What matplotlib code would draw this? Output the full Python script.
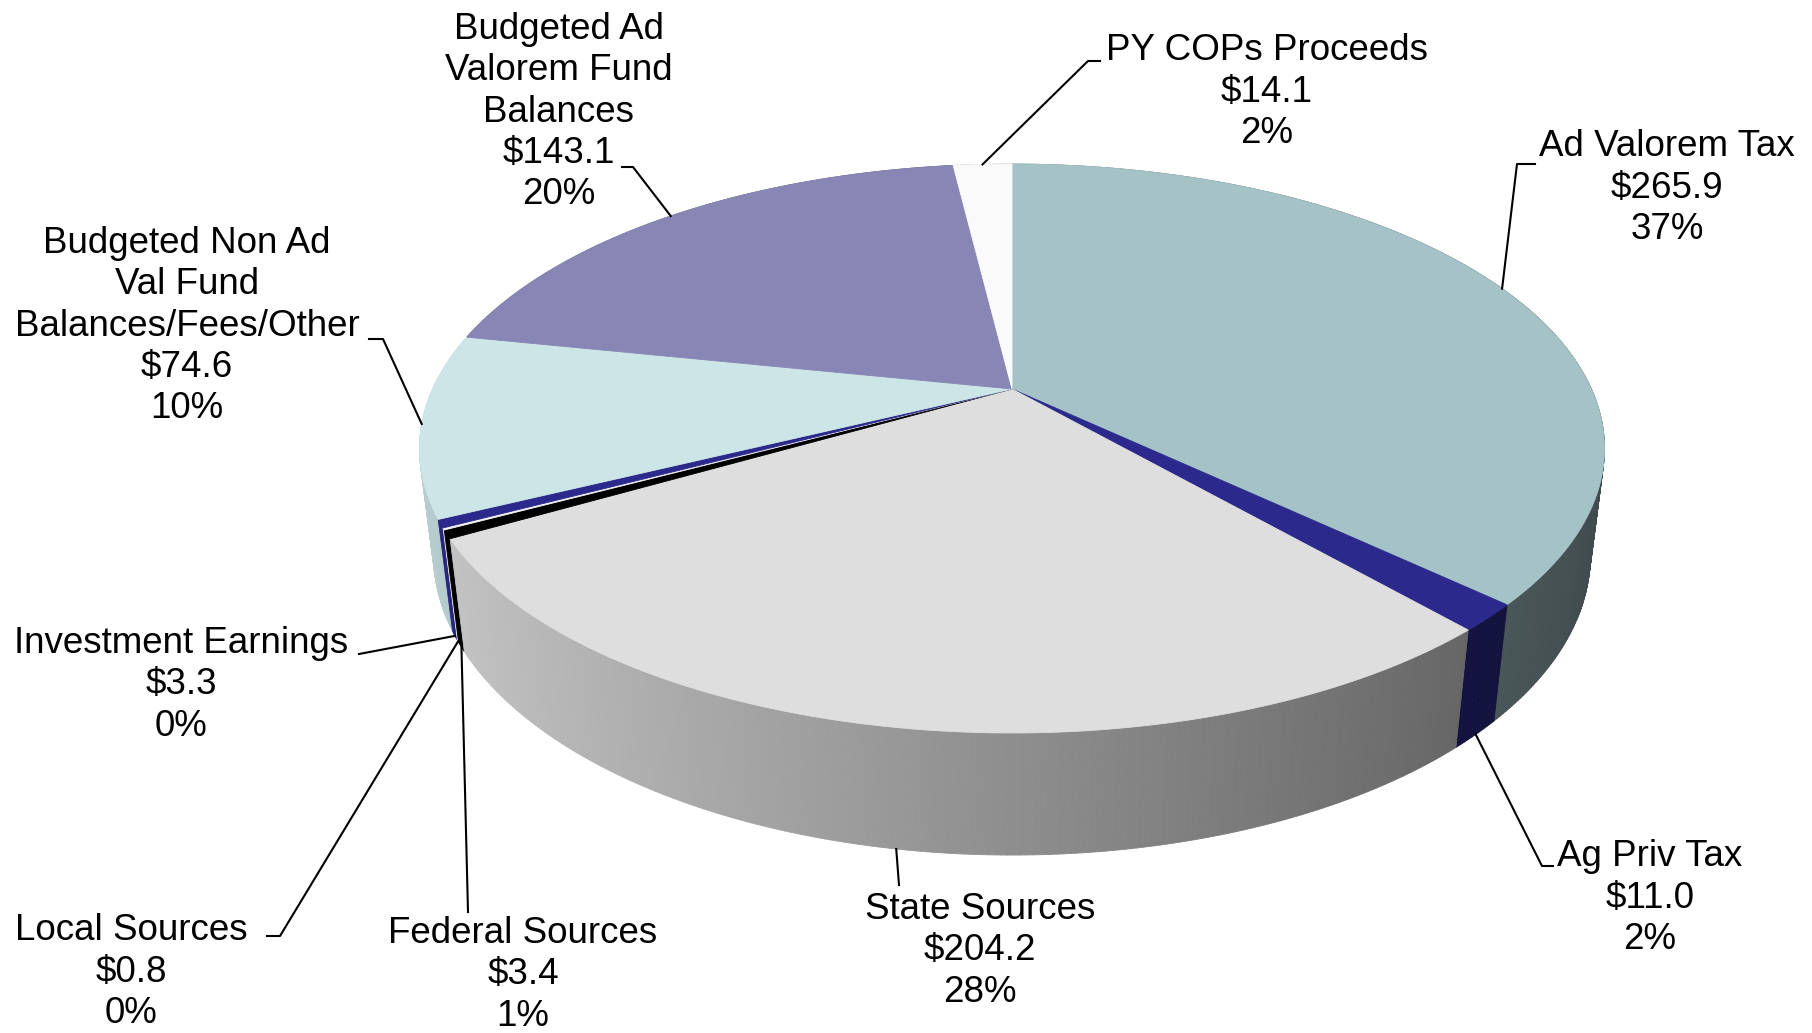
import numpy as np
import matplotlib.pyplot as plt
from matplotlib.collections import PolyCollection
from matplotlib.colors import to_rgb

plt.rcParams['font.family'] = ['Liberation Sans', 'DejaVu Sans']

# revenue sources, clockwise from 12 o'clock
labels = ['Ad Valorem Tax', 'Ag Priv Tax', 'State Sources', 'Federal Sources',
          'Local Sources', 'Investment Earnings',
          'Budgeted Non Ad\nVal Fund\nBalances/Fees/Other',
          'Budgeted Ad\nValorem Fund\nBalances', 'PY COPs Proceeds']
values = [265.9, 11.0, 204.2, 3.4, 0.8, 3.3, 74.6, 143.1, 14.1]
pct_text = ['37%', '2%', '28%', '1%', '0%', '0%', '10%', '20%', '2%']
colors = ['#a5c3c7', '#2b2a8c', '#dedede', '#000000', '#f2f2f2',
          '#2b2a8c', '#cce5e7', '#8886b4', '#fafafa']

# label placement (pixel coords of the 1812x1033 canvas)
label_xy = [(1667, 188), (1650, 898), (980, 951), (523, 975), (131, 972),
            (181, 685), (187, 326), (559, 112), (1267, 92)]
# elbow points of the leader lines, and whether they start on the bottom rim
leader_pts = [[(1517, 164), (1535, 164)],
              [(1542, 866), (1553, 866)],
              [(899, 885)],
              [(468, 912)],
              [(280, 936), (267, 936)],
              [(359, 654)],
              [(383, 339), (369, 339)],
              [(633, 167), (622, 167)],
              [(1088, 61), (1100, 61)]]
on_bottom = [False, True, True, True, True, True, False, False, False]

# simple perspective camera
CX, CY = 1012, 389
F = 2445
D = 4.22
PHI = np.radians(28)
SN, CS = np.sin(PHI), np.cos(PHI)
H = 0.21


def proj(theta, h=0.0):
    u = np.sin(theta)
    v = np.cos(theta)
    yc = v * SN - h * CS
    z = D + v * CS + h * SN
    return CX + F * u / z, CY - F * yc / z, z


def shade(theta):
    return 0.64 + 0.27 * (-np.sin(theta))


fig = plt.figure(figsize=(18.12, 10.33), dpi=100)
ax = fig.add_axes([0, 0, 1, 1])
ax.set_xlim(0, 1812)
ax.set_ylim(1033, 0)
ax.axis('off')

total = sum(values)
bounds = np.concatenate([[0], np.cumsum(values)]) / total * 2 * np.pi

# side walls, painted back to front
quads, qcols, depth = [], [], []
for i in range(len(values)):
    a, b = bounds[i], bounds[i + 1]
    n = max(2, int(np.degrees(b - a) / 0.5))
    ts = np.linspace(a, b, n + 1)
    base = np.array(to_rgb(colors[i]))
    for t1, t2 in zip(ts[:-1], ts[1:]):
        x1, y1, z1 = proj(t1)
        x2, y2, z2 = proj(t2)
        x3, y3, _ = proj(t2, H)
        x4, y4, _ = proj(t1, H)
        quads.append([(x1, y1), (x2, y2), (x3, y3), (x4, y4)])
        qcols.append(np.clip(base * shade((t1 + t2) / 2), 0, 1))
        depth.append((z1 + z2) / 2)
order = np.argsort(depth)[::-1]
pc = PolyCollection([quads[k] for k in order], facecolors=[qcols[k] for k in order],
                    edgecolors=[qcols[k] for k in order], linewidths=0.6)
ax.add_collection(pc)

# top faces
for i in range(len(values)):
    a, b = bounds[i], bounds[i + 1]
    n = max(2, int(np.degrees(b - a) / 0.5))
    ts = np.linspace(a, b, n + 1)
    xs, ys, _ = proj(ts)
    pts = [(CX, CY)] + list(zip(xs, ys))
    ax.fill([p[0] for p in pts], [p[1] for p in pts], color=colors[i],
            ec=colors[i], lw=0.6)

# labels and leader lines
for i in range(len(values)):
    mid = (bounds[i] + bounds[i + 1]) / 2
    ax0, ay0, _ = proj(mid, H if on_bottom[i] else 0.0)
    path = [(ax0, ay0)] + leader_pts[i]
    ax.plot([p[0] for p in path], [p[1] for p in path], color='black', lw=1.5)
    txt = f"{labels[i]}\n${values[i]:.1f}\n{pct_text[i]}"
    ax.text(label_xy[i][0], label_xy[i][1], txt, ha='center', va='center',
            multialignment='center', fontsize=26.5, linespacing=1.24,
            color='black')

fig.savefig('out.png', dpi=100)
